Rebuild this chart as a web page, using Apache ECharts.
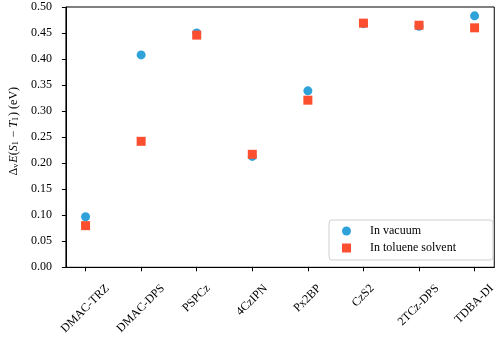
<!DOCTYPE html>
<html>
<head>
<meta charset="utf-8">
<script src="https://cdn.jsdelivr.net/npm/echarts@6/dist/echarts.min.js"></script>
<style>
  html, body { margin: 0; padding: 0; background: #fff; }
  #chart { width: 498px; height: 338px; }
</style>
</head>
<body>
<div id="chart"></div>
<script>
// Singlet-triplet gap of TADF emitters, gas phase vs toluene solvent
const molecules = ['DMAC-TRZ', 'DMAC-DPS', 'PSPCz', '4CzIPN', 'Px2BP', 'CzS2', '2TCz-DPS', 'TDBA-DI'];
const gapVacuum = [0.097, 0.408, 0.450, 0.213, 0.339, 0.468, 0.463, 0.483];
const gapToluene = [0.080, 0.242, 0.446, 0.217, 0.321, 0.469, 0.465, 0.460];

const FONT = 'Liberation Serif';
const FONT_SIZE = 12;
const positions = molecules.map((_, i) => i);

// Rotated tick labels are centred under their tick by their rotated bounding box,
// so each label gets its own padding, derived from its measured width.
const ctx = document.createElement('canvas').getContext('2d');
ctx.font = FONT_SIZE + 'px "' + FONT + '"';
const LABEL_H = 13;      // text box height used for the rotated box
const LABEL_DROP = 19;   // distance from anchor down to the top of the rotated boxes
const labelRich = {};
molecules.forEach((name, i) => {
  const w = ctx.measureText(name).width;
  const dx = (w - LABEL_H) / (2 * Math.SQRT2);
  const dy = LABEL_DROP;
  labelRich['l' + i] = {
    fontFamily: FONT, fontSize: FONT_SIZE, color: '#000',
    padding: [(dx + dy) / Math.SQRT2, Math.max(0, (dy - dx) / Math.SQRT2), 0, 0]
  };
});

const chart = echarts.init(document.getElementById('chart'), null, { renderer: 'canvas' });
chart.setOption({
  animation: false,
  backgroundColor: '#fff',
  textStyle: { fontFamily: FONT },
  grid: {
    left: 65, top: 7, right: -2, bottom: 70.7,
    show: true, borderColor: '#000', borderWidth: 1
  },
  xAxis: {
    type: 'value',
    min: -0.354, max: 7.354,
    axisLine: { show: true, onZero: false, lineStyle: { color: '#000', width: 1 } },
    axisTick: { show: true, customValues: positions, length: 4, lineStyle: { color: '#000' } },
    axisLabel: {
      customValues: positions,
      formatter: v => {
        const i = Math.round(v);
        return '{l' + i + '|' + molecules[i] + '}';
      },
      rich: labelRich,
      rotate: 45, margin: -4,
      align: 'right', verticalAlign: 'top',
      fontFamily: FONT, fontSize: FONT_SIZE, color: '#000'
    },
    splitLine: { show: false }
  },
  yAxis: {
    type: 'value',
    min: 0, max: 0.5, interval: 0.05,
    axisLine: { show: true, onZero: false, lineStyle: { color: '#000', width: 1 } },
    axisTick: { show: true, length: 4, lineStyle: { color: '#000' } },
    axisLabel: {
      formatter: v => v.toFixed(2),
      margin: 14, fontFamily: FONT, fontSize: FONT_SIZE, color: '#000'
    },
    splitLine: { show: false },
    name: '{n|Δ}{s|v}{i|E}{n|(}{i|S}{s|1}{n| − }{i|T}{s|1}{n|) (eV)}',
    nameLocation: 'middle',
    nameGap: 43,
    nameRotate: 90,
    nameTextStyle: {
      padding: [0, 0, 0, 12],
      rich: {
        n: { fontFamily: FONT, fontSize: 12, color: '#000' },
        i: { fontFamily: FONT, fontSize: 12, fontStyle: 'italic', color: '#000' },
        s: { fontFamily: FONT, fontSize: 8, color: '#000', verticalAlign: 'bottom', padding: [0, 1, 0, 0] }
      }
    }
  },
  legend: {
    orient: 'vertical',
    left: 329, top: 220,
    padding: [5, 37, 6, 13],
    itemGap: 5,
    itemWidth: 9, itemHeight: 9,
    borderColor: '#d0d0d0', borderWidth: 1, borderRadius: 3,
    backgroundColor: 'rgba(255,255,255,0.8)',
    textStyle: { fontFamily: FONT, fontSize: 12, color: '#000', padding: [0, 0, 0, 14] },
    data: [
      { name: 'In vacuum', icon: 'circle' },
      { name: 'In toluene solvent', icon: 'rect' }
    ]
  },
  series: [
    {
      name: 'In vacuum',
      type: 'scatter',
      symbol: 'circle',
      symbolSize: 9,
      itemStyle: { color: '#30a2da', opacity: 1 },
      data: positions.map(i => [i, gapVacuum[i]])
    },
    {
      name: 'In toluene solvent',
      type: 'scatter',
      symbol: 'rect',
      symbolSize: 9,
      itemStyle: { color: '#fc4f30', opacity: 1 },
      data: positions.map(i => [i, gapToluene[i]])
    }
  ]
});
</script>
</body>
</html>
